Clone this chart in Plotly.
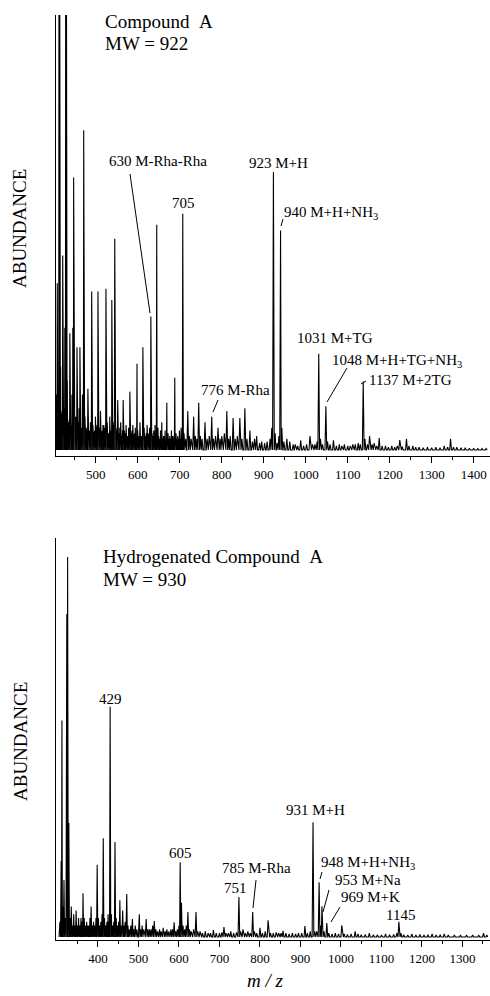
import plotly.graph_objects as go

# ---------------- data ----------------
top_mz = [405, 408, 410, 412, 414, 416, 418, 421, 424, 426, 428, 430, 432, 435, 438, 441, 443, 445, 447, 449,
          452, 455, 458, 460, 462, 465, 468, 471, 474, 477, 481, 484, 487, 490, 493, 496, 499, 502, 505, 508,
          511, 514, 517, 521, 524, 527, 530, 533, 536, 538, 541, 545, 548, 552, 555, 559, 562, 565, 568, 572,
          575, 578, 581, 584, 588, 591, 594, 598, 601, 605, 608, 612, 615, 618, 622, 625, 628, 631, 634, 638,
          641, 645, 648, 651, 654, 657, 661, 665, 669, 672, 676, 680, 684, 688, 691, 695, 699, 703, 707, 710,
          714, 719, 723, 727, 733, 737, 741, 745, 749, 753, 760, 765, 770, 776, 780, 785, 791, 796, 800, 806,
          812, 816, 820, 827, 832, 837, 843, 848, 855, 860, 867, 873, 878, 883, 890, 895, 902, 908, 915, 919,
          923, 927, 932, 936, 940, 943, 948, 955, 962, 970, 975, 981, 988, 995, 1002, 1010, 1016, 1022, 1027, 1031,
          1035, 1040, 1048, 1052, 1058, 1066, 1073, 1080, 1086, 1092, 1100, 1106, 1112, 1118, 1125, 1130, 1137, 1141, 1147, 1152,
          1158, 1163, 1169, 1175, 1182, 1190, 1197, 1205, 1212, 1218, 1224, 1230, 1240, 1246, 1255, 1262, 1270, 1280, 1290, 1300,
          1310, 1320, 1330, 1338, 1345, 1352, 1360, 1370, 1380, 1390, 1400, 1410, 1420, 1430]
top_ab = [20, 60, 8, 160, 160, 30, 12, 70, 15, 44, 160, 160, 25, 10, 42, 8, 20, 44, 98, 30,
          12, 37, 10, 15, 37, 8, 20, 115, 12, 8, 22, 6, 10, 57, 9, 6, 12, 8, 57, 7,
          14, 6, 9, 8, 58, 10, 6, 12, 7, 54, 10, 76, 8, 18, 6, 10, 5, 18, 7, 9,
          5, 8, 21, 6, 9, 5, 8, 31, 6, 10, 5, 37, 8, 5, 9, 5, 8, 48, 6, 7,
          9, 81, 8, 5, 7, 10, 5, 7, 17, 6, 5, 7, 5, 26, 6, 5, 7, 8, 85, 6,
          4, 14, 5, 4, 12, 5, 4, 17, 5, 4, 10, 4, 5, 12, 4, 5, 8, 4, 5, 6,
          14, 4, 5, 11.5, 4, 5, 11.5, 4, 15, 4, 7, 3, 4, 5, 2.5, 3, 2.5, 3, 4, 8,
          100, 6, 2.5, 5, 79, 8, 3, 4, 3, 2, 2, 1.5, 3.5, 1.5, 2, 5, 2, 2, 3, 34.6,
          4, 2, 15.7, 3, 2, 3.5, 1.5, 2, 1.5, 2, 1.5, 1.5, 2, 2, 2.5, 2, 24.6, 4, 2, 5,
          2, 2.5, 1.5, 4.3, 1.5, 1.5, 1, 1.5, 1, 1.5, 3.6, 1.2, 4, 1.5, 1.5, 1, 1, 0.8, 1, 0.8,
          1, 0.8, 1.5, 1, 4, 1, 1, 0.8, 0.8, 0.6, 0.6, 0.5, 0.5, 0.5]

# low-level chemical noise between the listed peaks (dense band at the left of the top trace)
top_floor_mz = [406.5, 409, 411, 415, 417, 419.5, 422.5, 425, 427, 431, 433.5, 436.5, 439.5, 442, 444, 446,
                450.5, 453.5, 456.5, 459, 461, 463.5, 466.5, 469.5, 472.5, 475.5, 479, 482.5, 485.5, 488.5,
                491.5, 494.5, 497.5, 500.5, 503.5, 506.5, 509.5, 512.5, 515.5, 519, 522.5, 525.5, 528.5, 531.5,
                534.5, 537, 539.5, 543, 546.5, 550, 553.5, 557, 560.5, 563.5, 566.5, 570, 573.5, 576.5, 579.5,
                582.5, 586, 589.5, 592.5, 596, 599.5, 603, 606.5, 610, 613.5, 616.5, 620, 623.5, 626.5, 629.5,
                632.5, 636, 639.5, 643, 646.5, 649.5, 652.5, 655.5, 659, 663, 667, 670.5, 674, 678, 682, 686,
                689.5, 693, 697, 701, 705]
top_floor_ab = [9, 12, 7, 9, 14, 8, 10, 7, 12, 14, 9, 11, 7, 9, 12, 8,
                10, 7, 9, 6, 8, 10, 6, 9, 8, 10, 7, 9, 7, 8,
                6, 9, 7, 6, 9, 6, 8, 6, 7, 9, 6, 7, 8, 5,
                8, 6, 7, 9, 6, 7, 5, 8, 6, 7, 5, 6, 7, 5, 6,
                5, 7, 5, 6, 5, 7, 5, 6, 5, 6, 5, 6, 5, 6, 5,
                6, 5, 6, 5, 6, 5, 4, 5, 4, 5, 4, 5, 4, 4, 5, 4,
                5, 4, 4, 4, 5]

bot_mz = [306, 309, 311, 313, 316, 319, 323, 325, 328, 331, 334, 337, 340, 343, 346, 349, 352, 355, 358, 361,
          363, 366, 369, 372, 375, 378, 380, 383, 386, 389, 392, 395, 398, 401, 404, 407, 410, 413, 416, 419,
          422, 425, 427, 430, 433, 436, 439, 442, 445, 448, 451, 454, 457, 461, 464, 467, 471, 474, 477, 481,
          485, 488, 492, 496, 502, 505, 509, 513, 519, 523, 527, 531, 535, 539, 543, 547, 552, 556, 561, 566,
          570, 575, 580, 584, 588, 592, 596, 600, 603, 606, 610, 614, 618, 622, 626, 630, 636, 642, 646, 652,
          658, 665, 672, 678, 685, 692, 700, 706, 711, 716, 722, 728, 735, 742, 748, 752, 758, 764, 770, 776,
          782, 786, 792, 800, 806, 813, 820, 826, 833, 840, 846, 852, 857, 864, 872, 880, 888, 895, 903, 911,
          917, 924, 931, 935, 940, 946, 950, 953, 958, 965, 970, 978, 986, 994, 1002, 1008, 1016, 1025, 1035, 1042,
          1050, 1060, 1070, 1080, 1090, 1100, 1110, 1120, 1130, 1138, 1143, 1148, 1155, 1165, 1175, 1185, 1195, 1205, 1215, 1225,
          1235, 1245, 1255, 1265, 1280, 1295, 1310, 1325, 1340, 1352, 1360]
bot_ab = [4, 20, 57, 8, 15, 5, 85, 100, 30, 5, 8, 3, 6, 3, 7, 3, 5, 3, 5, 4,
          11.5, 5, 3, 4, 3, 3, 5, 8, 3, 4, 3, 5, 19, 5, 3, 4, 6, 26, 5, 3,
          4, 6, 4, 60.6, 6, 3, 4, 25, 5, 3, 4, 9.7, 3, 7, 3, 4, 11.3, 3, 2, 3,
          4.7, 2, 3, 2, 6, 2, 3, 2, 4.7, 2, 2, 2, 3, 4.2, 2, 1.5, 2, 1.5, 2.4, 1.5,
          2, 1.5, 2, 2, 3.9, 1.5, 2, 3, 19.7, 9, 3, 2, 3, 6.6, 2, 1.5, 2, 6.6, 1.5, 1.5,
          1, 1.5, 1, 1, 1.8, 1, 1, 1.2, 2.6, 1, 1, 1.5, 1, 1.2, 10.5, 1.5, 2, 1, 1.5, 1,
          6.6, 1.5, 1, 2.4, 1, 1.5, 4.4, 1, 1, 1.2, 1, 1, 1.6, 1, 0.8, 1, 0.8, 1, 1, 2.9,
          1, 1.5, 30.2, 1.5, 1.5, 14.4, 3, 8.1, 1.5, 3.7, 1, 0.8, 1, 0.8, 3.1, 0.8, 0.7, 0.8, 1.5, 0.8,
          0.6, 0.7, 1, 0.6, 0.6, 0.5, 0.8, 0.6, 0.7, 1, 4, 1, 0.6, 0.5, 0.8, 0.5, 0.7, 0.5, 0.6, 0.8,
          0.5, 0.6, 0.8, 0.5, 0.5, 0.5, 0.5, 0.5, 0.5, 1, 0.5]

top_ticks = [500, 600, 700, 800, 900, 1000, 1100, 1200, 1300, 1400]
top_minor = [450, 550, 650, 750, 850, 950, 1050, 1150, 1250, 1350]
bot_ticks = [400, 500, 600, 700, 800, 900, 1000, 1100, 1200, 1300]
bot_minor = [350, 450, 550, 650, 750, 850, 950, 1050, 1150, 1250, 1350]

# ---------------- helpers ----------------
W, H = 490, 996
HW = 2.2  # peak half width in m/z (drawing style)
FONT = "Liberation Serif"


def profile(mz, ab):
    pairs = sorted(zip(mz, ab))
    xs, ys = [], []
    n = len(pairs)
    for i, (m, h) in enumerate(pairs):
        lg = m - pairs[i - 1][0] if i > 0 else 2 * HW
        rg = pairs[i + 1][0] - m if i < n - 1 else 2 * HW
        left = min(HW, lg / 2)
        right = min(HW, rg / 2)
        if not xs or xs[-1] < m - left:
            xs.append(m - left)
            ys.append(0)
        xs.append(m)
        ys.append(h)
        xs.append(m + right)
        ys.append(0)
    return xs, ys


def px(x):
    return x / W


def py(y):
    return 1 - y / H


fig = go.Figure()
tx, ty = profile(top_mz + top_floor_mz, top_ab + top_floor_ab)
bx, by = profile(bot_mz, bot_ab)
fig.add_trace(go.Scatter(x=tx, y=ty, mode="lines", line=dict(color="black", width=1.1),
                         xaxis="x", yaxis="y", showlegend=False, hoverinfo="skip"))
fig.add_trace(go.Scatter(x=bx, y=by, mode="lines", line=dict(color="black", width=1.1),
                         xaxis="x2", yaxis="y2", showlegend=False, hoverinfo="skip"))

xa_common = dict(showline=True, linecolor="black", linewidth=1, ticks="outside", ticklen=6,
                 tickwidth=1, tickcolor="black", showgrid=False, zeroline=False,
                 tickfont=dict(family=FONT, size=13, color="black"))
ya_common = dict(showline=True, linecolor="black", linewidth=1, ticks="", showticklabels=False,
                 showgrid=False, zeroline=False)

fig.update_layout(
    width=W, height=H, margin=dict(l=0, r=0, t=0, b=0),
    paper_bgcolor="white", plot_bgcolor="white",
    font=dict(family=FONT, color="black"),
    xaxis=dict(domain=[56 / W, 1.0], range=[405, 1439], anchor="y",
               tickvals=top_ticks, ticktext=[str(v) for v in top_ticks],
               minor=dict(tickvals=top_minor, ticks="outside", ticklen=3, tickcolor="black"),
               **xa_common),
    yaxis=dict(domain=[py(456), py(15)], range=[-2.16, 156.5], anchor="x", **ya_common),
    xaxis2=dict(domain=[56 / W, 1.0], range=[296.3, 1368], anchor="y2",
                tickvals=bot_ticks, ticktext=[str(v) for v in bot_ticks],
                minor=dict(tickvals=bot_minor, ticks="outside", ticklen=3, tickcolor="black"),
                **xa_common),
    yaxis2=dict(domain=[py(940), py(538)], range=[-0.79, 105], anchor="x2", **ya_common),
)

ann = []


def label(text, x, y, size=15, xanchor="left", italic=False, angle=0):
    ann.append(dict(text=("<i>%s</i>" % text) if italic else text, x=px(x), y=py(y),
                    xref="paper", yref="paper", showarrow=False, xanchor=xanchor,
                    yanchor="middle", textangle=angle,
                    font=dict(family=FONT, size=size, color="black")))


# top panel texts
label("Compound&nbsp;&nbsp;A", 103, 21, size=19)
label("MW = 922", 103, 44, size=19)
label("630 M-Rha-Rha", 107, 161)
label("705", 183, 203, xanchor="center")
label("923 M+H", 247, 163)
label("940 M+H+NH<sub>3</sub>", 282, 213)
label("1031 M+TG", 295, 338)
label("1048 M+H+TG+NH<sub>3</sub>", 330, 361)
label("1137 M+2TG", 367, 380)
label("776 M-Rha", 199, 390)
label("ABUNDANCE", 20, 229, size=19, xanchor="center", angle=-90)

# bottom panel texts
label("Hydrogenated Compound&nbsp;&nbsp;A", 101, 556, size=19)
label("MW = 930", 101, 579, size=19)
label("429", 110, 699, xanchor="center")
label("605", 180, 853, xanchor="center")
label("785 M-Rha", 220, 868)
label("751", 235, 888, xanchor="center")
label("931 M+H", 284, 810)
label("948 M+H+NH<sub>3</sub>", 319, 863)
label("953 M+Na", 333, 880)
label("969 M+K", 339, 897)
label("1145", 400, 915, xanchor="center")
label("ABUNDANCE", 20, 742, size=19, xanchor="center", angle=-90)
label("m / z", 265, 980, size=19, xanchor="center", italic=True)

fig.update_layout(annotations=ann)

shapes = []


def seg(x0, y0, x1, y1):
    shapes.append(dict(type="line", xref="paper", yref="paper", x0=px(x0), y0=py(y0),
                       x1=px(x1), y1=py(y1), line=dict(color="black", width=1)))


seg(130, 174, 150, 313)
seg(283, 219, 281, 226)
seg(347, 368, 327, 402)
seg(218, 400, 213, 412)
seg(361, 384, 366, 381)
seg(256, 880, 253, 908)
seg(322, 872, 320, 879)
seg(329, 890, 323, 912)
seg(340, 907, 331, 922)
fig.update_layout(shapes=shapes)

fig.write_html("out.html")
